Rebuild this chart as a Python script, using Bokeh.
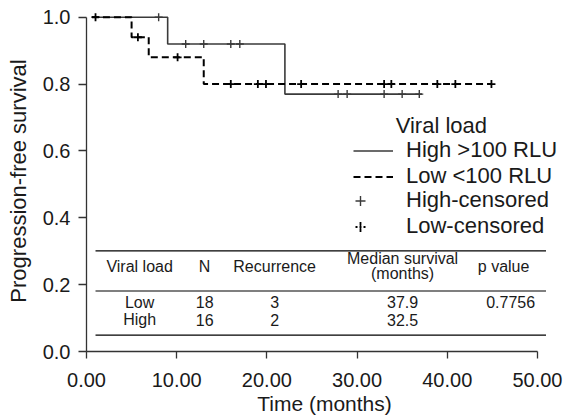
import numpy as np
from bokeh.plotting import figure
from bokeh.models import Range1d, FixedTicker, PrintfTickFormatter, Legend, LegendItem, Label
from bokeh.core.properties import value
from bokeh.embed import file_html
from bokeh.resources import INLINE

FONT = "Liberation Sans"
TXT = "#1a1a1a"
HIGH_COL = "#3a3a3a"
LOW_COL = "#000000"

# ---------------- data ----------------
high_step_times = [0.6, 9.0, 22.0, 37.2]
high_step_surv = [1.0, 0.92, 0.77, 0.77]
high_censor_times = [8.0, 11.0, 13.0, 16.0, 17.0, 27.9, 28.9, 33.0, 35.0, 36.9]

low_step_times = [0.6, 5.0, 6.9, 13.0, 44.9]
low_step_surv = [1.0, 0.94, 0.88, 0.80, 0.80]
low_censor_times = [1.0, 5.7, 10.1, 16.0, 19.0, 19.9, 23.8, 33.0, 33.8, 38.9, 40.9, 44.9]

x_ticks = [0, 10, 20, 30, 40, 50]
y_ticks = [0.0, 0.2, 0.4, 0.6, 0.8, 1.0]

x_title = "Time (months)"
y_title = "Progression-free survival"

legend_title = "Viral load"
legend_labels = ["High >100 RLU", "Low <100 RLU", "High-censored", "Low-censored"]

table_header = ["Viral load", "N", "Recurrence", "Median survival", "p value"]
table_header2 = "(months)"
table_group = ["Low", "High"]
table_n = ["18", "16"]
table_recurrence = ["3", "2"]
table_median = ["37.9", "32.5"]
table_p = ["0.7756", ""]


def surv_at(times, surv, t):
    idx = np.searchsorted(np.asarray(times), t, side="right") - 1
    return surv[int(idx)]


high_censor_surv = [surv_at(high_step_times, high_step_surv, t) for t in high_censor_times]
low_censor_surv = [surv_at(low_step_times, low_step_surv, t) for t in low_censor_times]

# ---------------- figure ----------------
p = figure(width=566, height=420, x_range=Range1d(0, 52.78), y_range=Range1d(0, 1.02),
           output_backend="svg", toolbar_location=None,
           min_border_left=86, min_border_right=4, min_border_top=10, min_border_bottom=69)
p.xgrid.visible = False
p.ygrid.visible = False
p.outline_line_color = None
p.background_fill_color = "white"
p.border_fill_color = "white"

for ax in (p.xaxis[0], p.yaxis[0]):
    ax.axis_line_color = "#333333"
    ax.axis_line_width = 1.3
    ax.major_tick_line_color = "#333333"
    ax.major_tick_line_width = 1.3
    ax.major_tick_in = 0
    ax.minor_tick_line_color = None
    ax.major_label_text_font = FONT
    ax.major_label_text_font_size = "20px"
    ax.major_label_text_color = TXT
    ax.axis_label_text_font = FONT
    ax.axis_label_text_font_style = "normal"
    ax.axis_label_text_color = TXT

p.xaxis[0].bounds = (0, 50)
p.xaxis[0].ticker = FixedTicker(ticks=x_ticks, minor_ticks=[])
p.xaxis[0].formatter = PrintfTickFormatter(format="%.2f")
p.xaxis[0].major_tick_out = 7
p.xaxis[0].major_label_standoff = 14
p.xaxis[0].axis_label = x_title
p.xaxis[0].axis_label_text_font_size = "21px"
p.xaxis[0].axis_label_standoff = 2

p.yaxis[0].bounds = (0, 1)
p.yaxis[0].ticker = FixedTicker(ticks=y_ticks, minor_ticks=[])
p.yaxis[0].formatter = PrintfTickFormatter(format="%.1f")
p.yaxis[0].major_tick_out = 8
p.yaxis[0].major_label_standoff = 8
p.yaxis[0].axis_label = y_title
p.yaxis[0].axis_label_text_font_size = "22px"
p.yaxis[0].axis_label_standoff = 9

# ---------------- curves ----------------
r_high = p.step(high_step_times, high_step_surv, mode="after", line_color=HIGH_COL, line_width=1.6)
r_low = p.step(low_step_times, low_step_surv, mode="after", line_color=LOW_COL, line_width=2.0,
               line_dash="7 4")
r_high_c = p.scatter(high_censor_times, high_censor_surv, marker="cross", size=8,
                     line_color=HIGH_COL, line_width=1.4)
r_low_c = p.scatter(low_censor_times, low_censor_surv, marker="cross", size=8,
                    line_color=LOW_COL, line_width=1.8)
# legend helper: zero-size in the plot (draws nothing there); in the legend it opens
# two small white gaps so that the low-censored symbol reads as "-|-"
r_low_gap = p.scatter(low_censor_times, low_censor_surv, marker="dash", size=0,
                      line_color="white", line_width=3, line_dash="0 2 2 2 2 2")

# ---------------- table ----------------
tab_x0, tab_x1 = 1.0, 50.95
tab_lines_y = [0.301, 0.181, 0.049]
p.segment(x0=[tab_x0] * 3, x1=[tab_x1] * 3, y0=tab_lines_y, y1=tab_lines_y,
          line_color="black", line_width=1.2)

col_x = [5.89, 13.10, 20.86, 35.05, 46.25]
hdr_y = [0.253, 0.253, 0.253, 0.2775, 0.253]
tab_font = dict(text_font=value(FONT), text_font_size="16px", text_color=TXT,
                text_align="center", text_baseline="middle")
p.text(x=col_x, y=hdr_y, text=table_header, **tab_font)
p.text(x=[col_x[3]], y=[0.2326], text=[table_header2], **tab_font)
row_y = [0.1467, 0.0943]
for cx, vals in zip([col_x[0], col_x[1], col_x[2], col_x[3], 47.03],
                    [table_group, table_n, table_recurrence, table_median, table_p]):
    p.text(x=[cx] * 2, y=row_y, text=vals, **tab_font)

# ---------------- legend ----------------
p.add_layout(Label(x=34.28, y=0.677, text=legend_title, text_font=FONT, text_font_size="22px",
                   text_color=TXT, text_align="left", text_baseline="middle"))

common = dict(padding=0, margin=0, spacing=0, border_line_alpha=0, background_fill_alpha=0,
              label_text_font=FONT, label_text_font_size="22px", label_text_color=TXT,
              glyph_height=25, label_height=25)
leg1 = Legend(items=[LegendItem(label=legend_labels[0], renderers=[r_high]),
                     LegendItem(label=legend_labels[1], renderers=[r_low])],
              glyph_width=40, label_standoff=13, location=(267, 162), **common)
leg2 = Legend(items=[LegendItem(label=legend_labels[2], renderers=[r_high_c]),
                     LegendItem(label=legend_labels[3], renderers=[r_low_c, r_low_gap])],
              glyph_width=28, label_standoff=32, location=(260, 112), **common)
p.add_layout(leg1)
p.add_layout(leg2)

open("out.html", "w").write(file_html(p, INLINE))
